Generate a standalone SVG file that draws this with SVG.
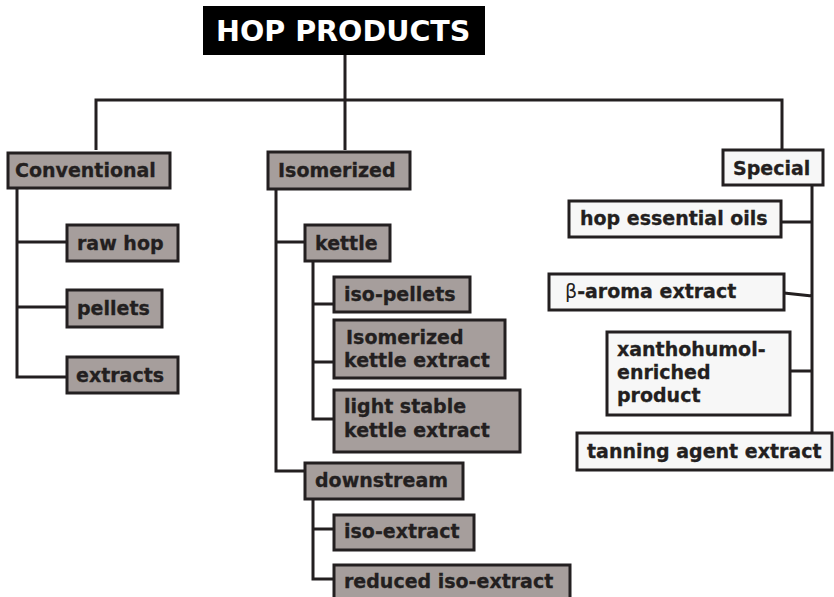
<svg xmlns="http://www.w3.org/2000/svg" width="834" height="597" viewBox="0 0 834 597">
<style>
.g{fill:#a69e9c;stroke:#231f20;stroke-width:3}
.w{fill:#f7f7f7;stroke:#231f20;stroke-width:3}
.t{font-family:"DejaVu Sans",Verdana,sans-serif;font-weight:bold;font-size:19px;fill:#231f20;stroke:#231f20;stroke-width:0.3}
.c{fill:none;stroke:#231f20;stroke-width:3}
</style>
<rect width="834" height="597" fill="#ffffff"/>
<g id="connectors" class="c">
<path d="M345,55V150M96,150V100H782V150"/>
<path d="M17,188V377H67M17,242H67M17,307H67"/>
<path d="M276,189V471H305M276,242H305"/>
<path d="M313,261V419H334M313,304H334M313,362H334"/>
<path d="M313,499V579H334M313,529H334"/>
<path d="M812,185V433M781,222H812M784,293L812,296M790,371H812"/>
</g>
<g id="title"><rect x="203" y="6" width="282" height="49" fill="#000"/><text x="216" y="41" font-family="DejaVu Sans,Verdana,sans-serif" font-weight="bold" font-size="28.6" fill="#fff">HOP PRODUCTS</text></g>
<g id="conventional"><rect class="g" x="8" y="153" width="162" height="35"/><text class="t" x="15" y="177">Conventional</text></g>
<g id="raw-hop"><rect class="g" x="67" y="225" width="111" height="36"/><text class="t" x="77" y="250">raw hop</text></g>
<g id="pellets"><rect class="g" x="67" y="290" width="95" height="37"/><text class="t" x="77" y="315">pellets</text></g>
<g id="extracts"><rect class="g" x="67" y="357" width="111" height="36"/><text class="t" x="76" y="382">extracts</text></g>
<g id="isomerized"><rect class="g" x="268" y="152" width="142" height="37"/><text class="t" x="278" y="177">Isomerized</text></g>
<g id="kettle"><rect class="g" x="305" y="225" width="85" height="36"/><text class="t" x="315" y="250">kettle</text></g>
<g id="iso-pellets"><rect class="g" x="334" y="277" width="136" height="35"/><text class="t" x="344" y="301">iso-pellets</text></g>
<g id="isomerized-kettle-extract"><rect class="g" x="334" y="320" width="171" height="58"/><text class="t" x="344" y="344"><tspan x="346">Isomerized</tspan><tspan x="344" y="367">kettle extract</tspan></text></g>
<g id="light-stable-kettle-extract"><rect class="g" x="334" y="390" width="186" height="62"/><text class="t" x="344" y="413"><tspan x="344">light stable</tspan><tspan x="344" y="437">kettle extract</tspan></text></g>
<g id="downstream"><rect class="g" x="305" y="463" width="158" height="36"/><text class="t" x="315" y="487">downstream</text></g>
<g id="iso-extract"><rect class="g" x="334" y="515" width="140" height="35"/><text class="t" x="344" y="538">iso-extract</text></g>
<g id="reduced-iso-extract"><rect class="g" x="334" y="565" width="236" height="40"/><text class="t" x="344" y="588">reduced iso-extract</text></g>
<g id="special"><rect class="w" x="723" y="150" width="100" height="35"/><text class="t" x="733" y="175">Special</text></g>
<g id="hop-essential-oils"><rect class="w" x="569" y="201" width="212" height="36"/><text class="t" x="580" y="225">hop essential oils</text></g>
<g id="beta-aroma-extract"><rect class="w" x="549" y="274" width="235" height="36"/><text class="t" x="565" y="298"><tspan font-weight="normal" stroke-width="0">β</tspan>-aroma extract</text></g>
<g id="xanthohumol-enriched-product"><rect class="w" x="607" y="332" width="183" height="83"/><text class="t" x="617" y="356"><tspan x="617">xanthohumol-</tspan><tspan x="617" y="379">enriched</tspan><tspan x="617" y="402">product</tspan></text></g>
<g id="tanning-agent-extract"><rect class="w" x="577" y="433" width="255" height="37"/><text class="t" x="587" y="458">tanning agent extract</text></g>
</svg>
